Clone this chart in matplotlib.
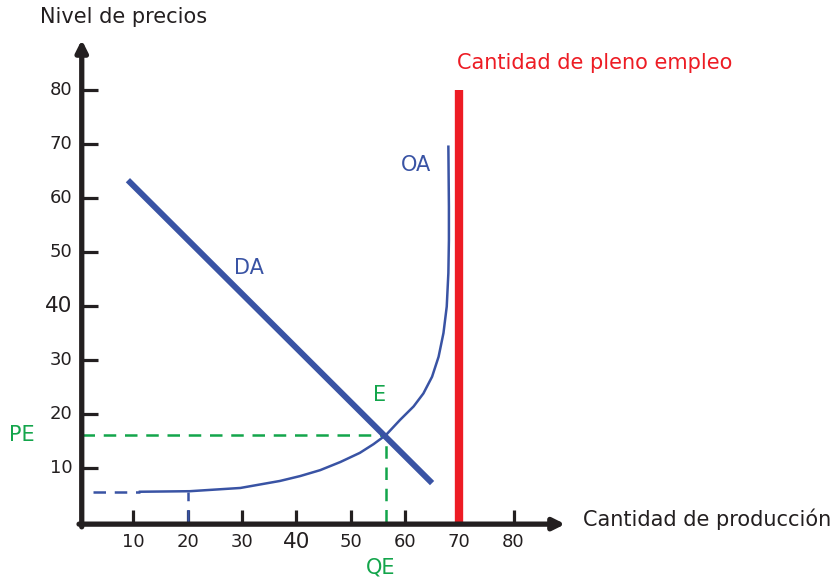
import matplotlib
matplotlib.use("Agg")
import matplotlib.pyplot as plt

plt.rcParams["font.family"] = ["DejaVu Sans"]

# -----------------------------
# Data
# -----------------------------
tick_values = [10, 20, 30, 40, 50, 60, 70, 80]
big_tick = 40  # drawn a bit larger in the original

da_x = [9.0, 65.0]
da_y = [63.3, 7.2]

oa_x = [11.2, 20.4, 29.7, 37.0, 40.7, 44.4, 48.1, 51.7, 54.2, 56.5, 59.1,
        61.6, 63.4, 65.0, 66.2, 67.1, 67.7, 68.0, 68.1, 68.1, 68.0]
oa_y = [5.6, 5.7, 6.3, 7.6, 8.5, 9.6, 11.1, 12.8, 14.4, 16.1, 18.9,
        21.4, 23.8, 26.9, 30.6, 35.0, 39.9, 46.1, 52.2, 58.4, 69.5]

full_employment_q = 70
full_employment_top = 80

eq_q = 56.5
eq_p = 16.1
oa_floor = 5.6
oa_floor_start = 2.6
oa_floor_tick = 20

# -----------------------------
# Colours
# -----------------------------
black = "#231f20"
blue = "#3953a4"
green = "#13a54b"
red = "#ed1c24"

fig = plt.figure(figsize=(8.34, 5.81), dpi=100)
ax = fig.add_axes([0, 0, 1, 1])
ax.set_xlim(-14.55, 139.0)
ax.set_ylim(-10.93, 96.67)
ax.axis("off")

# axes with arrows
ax.annotate("", xy=(0.5, 89.3), xytext=(0.5, -0.9),
            arrowprops=dict(arrowstyle="-|>", lw=3.8, color=black,
                            mutation_scale=17, shrinkA=0, shrinkB=0))
ax.annotate("", xy=(89.5, -0.4), xytext=(0.0, -0.4),
            arrowprops=dict(arrowstyle="-|>", lw=3.8, color=black,
                            mutation_scale=17, shrinkA=0, shrinkB=0))

# ticks and tick labels
for v in tick_values:
    fs = 15.5 if v == big_tick else 13
    ax.plot([0.5, 3.5], [v, v], color=black, lw=2.3, solid_capstyle="butt")
    ax.text(-1.2, v, str(v), ha="right", va="center", fontsize=fs, color=black)
    ax.plot([v, v], [0, 2.2], color=black, lw=2.3, solid_capstyle="butt")
    ax.text(v, -3.7, str(v), ha="center", va="center", fontsize=fs, color=black)

# full employment line
ax.plot([full_employment_q, full_employment_q], [-0.4, full_employment_top],
        color=red, lw=6, solid_capstyle="butt")

# dashed guides
ax.plot([oa_floor_start, oa_x[0]], [oa_floor, oa_floor], color=blue, lw=1.8,
        dashes=(5, 3.5))
ax.plot([oa_floor_tick, oa_floor_tick], [0, oa_floor], color=blue, lw=1.8,
        dashes=(5, 3.5))
ax.plot([0.5, eq_q], [eq_p, eq_p], color=green, lw=1.8, dashes=(5, 3.5))
ax.plot([eq_q, eq_q], [0, eq_p], color=green, lw=1.8, dashes=(5, 3.5))

# curves
ax.plot(da_x, da_y, color=blue, lw=4.3, solid_capstyle="butt")
ax.plot(oa_x, oa_y, color=blue, lw=1.8, solid_joinstyle="round")

# labels
ax.text(-7.2, 93.5, "Nivel de precios", ha="left", va="center", fontsize=15, color=black)
ax.text(69.6, 85.0, "Cantidad de pleno empleo", ha="left", va="center", fontsize=15, color=red)
ax.text(92.8, 0.55, "Cantidad de producción", ha="left", va="center", fontsize=15, color=black)
ax.text(62.1, 66.1, "OA", ha="center", va="center", fontsize=15, color=blue)
ax.text(31.3, 47.0, "DA", ha="center", va="center", fontsize=15, color=blue)
ax.text(55.3, 23.5, "E", ha="center", va="center", fontsize=15, color=green)
ax.text(-10.5, 16.1, "PE", ha="center", va="center", fontsize=15, color=green)
ax.text(55.6, -8.5, "QE", ha="center", va="center", fontsize=15, color=green)

fig.savefig("out.png", dpi=100)
plt.close(fig)
